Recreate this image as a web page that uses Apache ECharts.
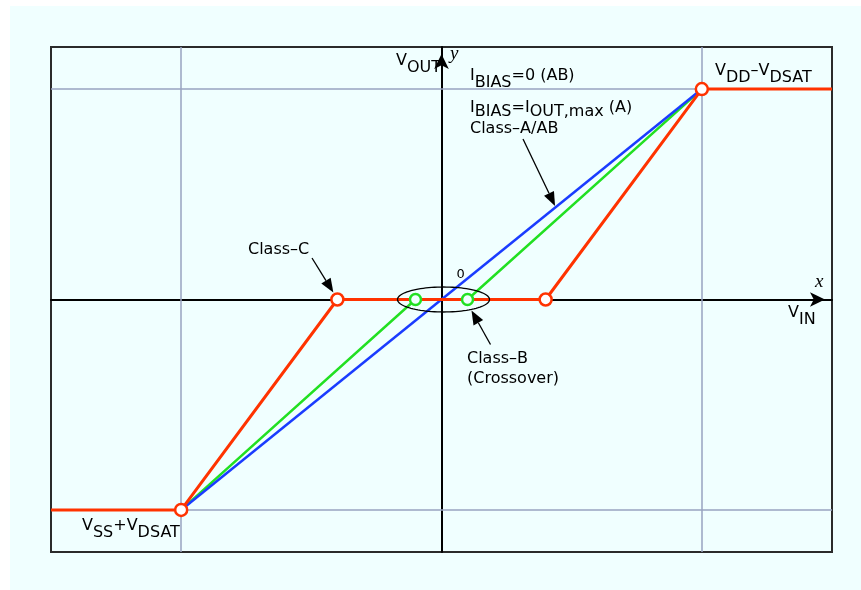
<!DOCTYPE html>
<html>
<head>
<meta charset="utf-8">
<script src="https://cdn.jsdelivr.net/npm/echarts@6/dist/echarts.min.js"></script>
<style>
  html, body { margin: 0; padding: 0; background: #ffffff; }
  #chart { position: absolute; left: 10px; top: 6px; width: 851px; height: 584px; }
</style>
</head>
<body>
<div id="chart"></div>
<script>
// Axis extents and reference grid positions (normalised voltages)
const xRange = [-1.5, 1.5];
const yRange = [-1.2, 1.2];
const gridTicks = [-1, 1];

// Transfer curves V_OUT(V_IN)
const classAB = [[-1, -1], [1, 1]];
const classB = [[-1, -1], [-0.1, 0], [0.1, 0], [1, 1]];
const classC = [[-1.5, -1], [-1, -1], [-0.4, 0], [0.4, 0], [1, 1], [1.5, 1]];

// Marked break points
const classBKnees = [[-0.1, 0], [0.1, 0]];
const classCKnees = [[-1, -1], [-0.4, 0], [0.4, 0], [1, 1]];

const FONT = 'DejaVu Sans';
const TXT = '#000000';

const chart = echarts.init(document.getElementById('chart'), null, { renderer: 'canvas' });

const axisCommon = {
  type: 'value',
  axisLabel: { show: false },
  axisTick: { show: false },
  splitLine: { show: false },
  axisLine: {
    show: true,
    onZero: true,
    symbol: ['none', 'arrow'],
    symbolSize: [11, 15],
    symbolOffset: [0, -7],
    lineStyle: { color: '#000', width: 2 }
  }
};

chart.setOption({
  backgroundColor: '#f0ffff',
  animation: false,
  grid: {
    left: 41, top: 41, right: 29, bottom: 38,
    show: true,
    borderColor: '#2b2b2b',
    borderWidth: 2,
    backgroundColor: 'transparent'
  },
  xAxis: Object.assign({}, axisCommon, { min: xRange[0], max: xRange[1] }),
  yAxis: Object.assign({}, axisCommon, { min: yRange[0], max: yRange[1] }),
  series: [
    {
      name: 'grid',
      type: 'line',
      data: [],
      z: 1,
      silent: true,
      markLine: {
        silent: true,
        symbol: 'none',
        label: { show: false },
        animation: false,
        lineStyle: { color: '#99a3c0', width: 1.5, type: 'solid' },
        data: gridTicks.map(v => ({ xAxis: v })).concat(gridTicks.map(v => ({ yAxis: v })))
      }
    },
    {
      name: 'Class-B',
      type: 'line',
      data: classB,
      z: 3,
      showSymbol: false,
      lineStyle: { color: '#22e022', width: 2.5 }
    },
    {
      name: 'Class-A/AB',
      type: 'line',
      data: classAB,
      z: 4,
      showSymbol: false,
      lineStyle: { color: '#1a3cff', width: 2.5 }
    },
    {
      name: 'Class-C',
      type: 'line',
      data: classC,
      z: 5,
      showSymbol: false,
      lineStyle: { color: '#ff3300', width: 3 }
    },
    {
      name: 'Class-B knees',
      type: 'scatter',
      data: classBKnees,
      z: 6,
      symbol: 'circle',
      symbolSize: 11,
      itemStyle: { color: '#f0ffff', borderColor: '#22e022', borderWidth: 2.5, opacity: 1 }
    },
    {
      name: 'Class-C knees',
      type: 'scatter',
      data: classCKnees,
      z: 7,
      symbol: 'circle',
      symbolSize: 12,
      itemStyle: { color: '#ffffff', borderColor: '#ff3300', borderWidth: 2.5, opacity: 1 }
    }
  ]
});

function toPx(p) { return chart.convertToPixel({ gridIndex: 0 }, p); }

function arrow(tail, tip) {
  const dx = tip[0] - tail[0], dy = tip[1] - tail[1];
  const len = Math.sqrt(dx * dx + dy * dy);
  const ux = dx / len, uy = dy / len;
  const hl = 14, hw = 5.5;
  const bx = tip[0] - ux * hl, by = tip[1] - uy * hl;
  return [
    { type: 'line', z: 20, shape: { x1: tail[0], y1: tail[1], x2: bx, y2: by },
      style: { stroke: '#000', lineWidth: 1.3 } },
    { type: 'polygon', z: 20, shape: { points: [
        [tip[0], tip[1]],
        [bx - uy * hw, by + ux * hw],
        [bx + uy * hw, by - ux * hw]
      ] }, style: { fill: '#000' } }
  ];
}

function ellipse(c, rx, ry) {
  const pts = [];
  for (let i = 0; i < 96; i++) {
    const t = (i / 96) * Math.PI * 2;
    pts.push([c[0] + rx * Math.cos(t), c[1] + ry * Math.sin(t)]);
  }
  return { type: 'polygon', z: 19, shape: { points: pts },
    style: { fill: 'none', stroke: '#000', lineWidth: 1.3 } };
}

// text with subscripts: 'm' = main level, 's' = subscript level
function subText(x, y, str, lh) {
  return {
    type: 'text', z: 30, x: x, y: y,
    style: {
      text: str,
      fontFamily: FONT, fontSize: 16, fill: TXT,
      lineHeight: lh, align: 'left', verticalAlign: 'top',
      rich: {
        m: { fontFamily: FONT, fontSize: 16, fill: TXT, lineHeight: lh, verticalAlign: 'top' },
        s: { fontFamily: FONT, fontSize: 16, fill: TXT, lineHeight: lh, verticalAlign: 'bottom' }
      }
    }
  };
}

function plainText(x, y, str, opts) {
  return {
    type: 'text', z: 30, x: x, y: y,
    style: Object.assign({
      text: str, fontFamily: FONT, fontSize: 16, fill: TXT,
      lineHeight: 16, align: 'left', verticalAlign: 'top'
    }, opts || {})
  };
}

const O = toPx([0, 0]);
const tipAB = toPx([0.44, 0.44]);
const kneeC = toPx(classCKnees[1]);

const graphics = [];
graphics.push(ellipse([O[0] + 2, O[1]], 46, 12.5));
graphics.push.apply(graphics, arrow([513, 133], [tipAB[0] - 1, tipAB[1] - 1]));
graphics.push.apply(graphics, arrow([302, 252], [kneeC[0] - 4, kneeC[1] - 7]));
graphics.push.apply(graphics, arrow([O[0] + 49, O[1] + 45], [O[0] + 30, O[1] + 11]));

graphics.push(subText(386, 46.5, '{m|V}{s|OUT}', 23));
graphics.push(plainText(440, 38, 'y', { fontFamily: 'Liberation Serif', fontStyle: 'italic', fontSize: 19, lineHeight: 19 }));
graphics.push(plainText(805, 266, 'x', { fontFamily: 'Liberation Serif', fontStyle: 'italic', fontSize: 19, lineHeight: 19 }));
graphics.push(subText(778, 298.5, '{m|V}{s|IN}', 23));
graphics.push(plainText(O[0] + 15, O[1] - 31, '0', { fontSize: 13, lineHeight: 13 }));
graphics.push(subText(460, 61.5, '{m|I}{s|BIAS}{m|=0 (AB)}', 23));
graphics.push(subText(460, 93.5, '{m|I}{s|BIAS}{m|=I}{s|OUT,max}{m| (A)}', 20));
graphics.push(plainText(460, 114.5, 'Class\u2013A/AB'));
graphics.push(subText(705, 56.5, '{m|V}{s|DD}{m|\u2013V}{s|DSAT}', 23));
graphics.push(subText(72, 511.5, '{m|V}{s|SS}{m|+V}{s|DSAT}', 23));
graphics.push(plainText(238, 235.5, 'Class\u2013C'));
graphics.push(plainText(457, 342.6, 'Class\u2013B\n(Crossover)', { lineHeight: 20 }));

chart.setOption({ graphic: graphics });
</script>
</body>
</html>
